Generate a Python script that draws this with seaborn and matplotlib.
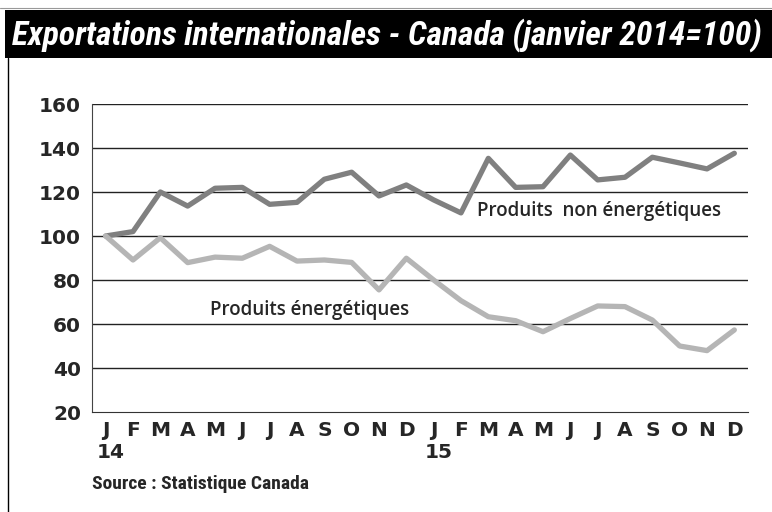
import matplotlib
matplotlib.use("Agg")
import matplotlib.pyplot as plt
import seaborn as sns
import pandas as pd
from matplotlib import font_manager
from matplotlib.patches import Rectangle
from matplotlib.lines import Line2D

months = ["J", "F", "M", "A", "M", "J", "J", "A", "S", "O", "N", "D"] * 2
year_labels = {0: "14", 12: "15"}
non_energy = [100, 102, 120, 113.6, 121.7, 122.1, 114.4, 115.3, 125.8, 129, 118.2, 123.2,
              116.4, 110.5, 135.3, 122.1, 122.4, 136.8, 125.5, 126.7, 135.8, 133.2, 130.5, 137.6]
energy = [100, 89.1, 99.2, 87.9, 90.4, 89.9, 95.3, 88.6, 89.1, 88.0, 75.5, 89.9,
          80.0, 70.6, 63.3, 61.5, 56.5, 62.5, 68.2, 67.9, 61.8, 50.0, 47.9, 57.3]
series_names = ["Produits  non énergétiques", "Produits énergétiques"]
yticks = [20, 40, 60, 80, 100, 120, 140, 160]

sns.set_style("white")
names = {f.name for f in font_manager.fontManager.ttflist}
narrow = None
for cand in ["Liberation Sans Narrow", "Roboto Condensed", "Open Sans Condensed", "Noto Sans Display"]:
    if cand in names:
        narrow = cand
        break
plt.rcParams["font.family"] = ["DejaVu Sans"]

df = pd.DataFrame({
    "t": list(range(len(months))) * 2,
    "v": non_energy + energy,
    "s": [series_names[0]] * len(months) + [series_names[1]] * len(months),
})

W, H = 772, 512
fig = plt.figure(figsize=(W / 100, H / 100), dpi=100)
ax = fig.add_axes([92 / W, (H - 412) / H, 656 / W, 308 / H])

sns.lineplot(data=df, x="t", y="v", hue="s", palette=["#808080", "#b5b5b5"],
             linewidth=3.8, legend=False, ax=ax, zorder=3)

ax.set_xlim(-0.5, len(months) - 0.5)
ax.set_ylim(20, 160)
ax.set_yticks(yticks)
ax.set_yticklabels([str(y) for y in yticks], fontsize=14.5, fontweight="bold")
for y in yticks[1:]:
    ax.axhline(y, color="#222222", linewidth=1.0, zorder=1)

ax.set_xticks([i - 0.5 for i in range(len(months) + 1)], minor=False)
ax.set_xticklabels([])
ax.tick_params(axis="x", direction="in", length=7, width=1, color="#333333")
ax.tick_params(axis="y", direction="out", length=2, width=1, color="#333333", pad=6)
for i, m in enumerate(months):
    ax.text(i, -0.03, m, transform=ax.get_xaxis_transform(), ha="center", va="top",
            fontsize=14.5, fontweight="bold")
for i, yl in year_labels.items():
    ax.text(i + 0.2, -0.1, yl, transform=ax.get_xaxis_transform(), ha="center", va="top",
            fontsize=14.5, fontweight="bold")

for side in ["top", "right"]:
    ax.spines[side].set_visible(False)
ax.spines["left"].set_color("#444444")
ax.spines["bottom"].set_color("#333333")
ax.set_xlabel("")
ax.set_ylabel("")

ax.text(13.6, 111.5, series_names[0], fontsize=13.5, family=["Open Sans", "DejaVu Sans"],
        fontweight="semibold", ha="left", va="center", zorder=4)
ax.text(3.8, 66.5, series_names[1], fontsize=13.5, family=["Open Sans", "DejaVu Sans"],
        fontweight="semibold", ha="left", va="center", zorder=4)

# title bar
fig.patches.append(Rectangle((5 / W, (H - 58) / H), 1, 48 / H, transform=fig.transFigure,
                             facecolor="black", edgecolor="none"))
tfam = [narrow, "DejaVu Sans"] if narrow else ["DejaVu Sans"]
fig.text(12 / W, (H - 35) / H, "Exportations internationales - Canada (janvier 2014=100)",
         color="white", fontsize=24.2 if narrow else 19, fontweight="bold", style="italic",
         family=tfam, ha="left", va="center")
fig.lines.append(Line2D([7.5 / W, 7.5 / W], [0, (H - 58) / H], transform=fig.transFigure,
                        color="black", linewidth=1))
fig.lines.append(Line2D([0, 1], [(H - 8) / H, (H - 8) / H], transform=fig.transFigure,
                        color="#999999", linewidth=0.8))

fig.text(92 / W, (H - 484) / H, "Source : Statistique Canada", fontsize=14 if narrow else 11,
         fontweight="bold", family=tfam, ha="left", va="center")

fig.savefig("out.png", dpi=100)
